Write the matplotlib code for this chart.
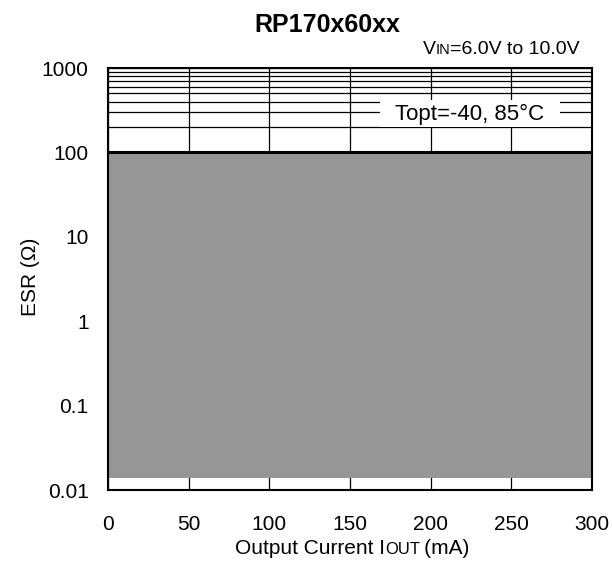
import matplotlib
matplotlib.use("Agg")
import matplotlib.pyplot as plt
import numpy as np
from matplotlib.offsetbox import TextArea, HPacker, AnnotationBbox
from matplotlib.patches import Rectangle

plt.rcParams['font.family'] = ['Liberation Sans', 'DejaVu Sans']

# Data
iout = [0, 50, 100, 150, 200, 250, 300]
esr_upper = [100, 100, 100, 100, 100, 100, 100]
esr_lower = [0.0138, 0.0138, 0.0138, 0.0138, 0.0138, 0.0138, 0.0138]
xticks = [0, 50, 100, 150, 200, 250, 300]
yticks = [0.01, 0.1, 1, 10, 100, 1000]
ytick_labels = ['0.01', '0.1', '1', '10', '100', '1000']

W, H = 612, 563
fig = plt.figure(figsize=(W/100, H/100), dpi=100)
ax = fig.add_axes([108/W, 1-490/H, (592-108)/W, (490-68)/H])

ax.set_yscale('log')
ax.set_xlim(0, 300)
ax.set_ylim(0.01, 1000)

ax.fill_between(iout, esr_lower, esr_upper, color='#969696', zorder=2, linewidth=0)
ax.plot(iout, esr_upper, color='black', linewidth=2.2, zorder=3)

ax.set_xticks(xticks)
ax.set_yticks(yticks)
ax.set_yticklabels(ytick_labels)
ax.yaxis.set_minor_locator(matplotlib.ticker.LogLocator(base=10, subs=np.arange(2, 10)))
ax.yaxis.set_minor_formatter(matplotlib.ticker.NullFormatter())
ax.grid(True, which='major', axis='x', color='black', linewidth=0.9, zorder=1)
ax.grid(True, which='both', axis='y', color='black', linewidth=0.9, zorder=1)
ax.set_axisbelow(True)
ax.tick_params(which='both', length=0)
ax.tick_params(axis='x', labelsize=15, pad=18)
ax.tick_params(axis='y', labelsize=15, pad=14)
for s in ax.spines.values():
    s.set_linewidth(1.5)
    s.set_zorder(4)

fig.text(30/W, 1-277/H, 'ESR (Ω)', rotation=90, ha='center', va='center', fontsize=15)

# x label with small "OUT"
xl = HPacker(children=[TextArea('Output Current I', textprops=dict(size=15)),
                       TextArea('OUT', textprops=dict(size=12)),
                       TextArea('\u2009(mA)', textprops=dict(size=15))],
             align='baseline', pad=0, sep=0)
fig.add_artist(AnnotationBbox(xl, (352, H-549), xycoords='figure pixels',
                              frameon=False, box_alignment=(0.5, 0.5)))

fig.text(327/W, 1-25/H, 'RP170x60xx', ha='center', va='center', fontsize=18, fontweight='bold')

vin = HPacker(children=[TextArea('V', textprops=dict(size=14)),
                        TextArea('IN', textprops=dict(size=10.5)),
                        TextArea('=6.0V to 10.0V', textprops=dict(size=14))],
              align='baseline', pad=0, sep=0)
fig.add_artist(AnnotationBbox(vin, (580, H-50), xycoords='figure pixels',
                              frameon=False, box_alignment=(1, 0.5)))

fig.add_artist(Rectangle((380/W, 1-127/H), 180/W, 27/H, transform=fig.transFigure,
                         facecolor='white', edgecolor='none', zorder=5))
fig.text(470/W, 1-114/H, 'Topt=-40, 85°C', ha='center', va='center', fontsize=16, zorder=6)

fig.savefig('out.png', dpi=100)
